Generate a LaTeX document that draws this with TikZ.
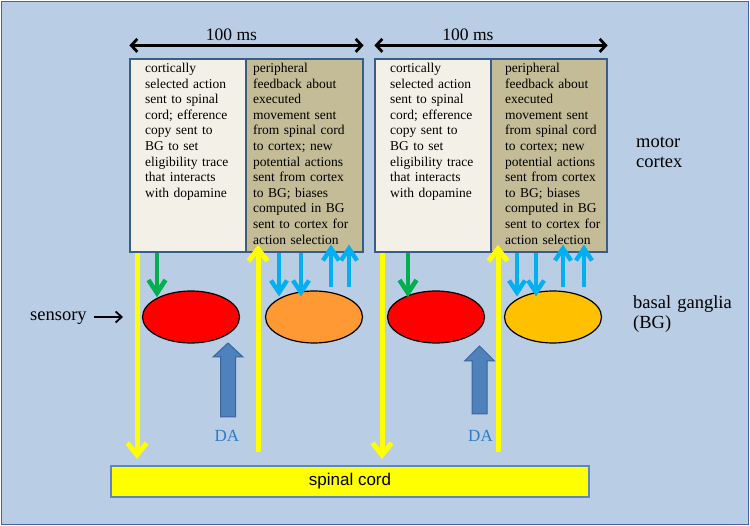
\documentclass[tikz,border=0pt]{standalone}
\usepackage{fontspec}
\setmainfont{Liberation Serif}
\newfontfamily\arialfont{Liberation Sans}
\usetikzlibrary{shapes.geometric,arrows.meta}
\definecolor{slide}{HTML}{B9CDE5}
\definecolor{slideline}{HTML}{41669C}
\definecolor{panelline}{HTML}{385D8A}
\definecolor{selfill}{HTML}{F3F1E7}
\definecolor{fbfill}{HTML}{C4BC96}
\definecolor{bgorange}{HTML}{FF9933}
\definecolor{bggold}{HTML}{FFC000}
\definecolor{ylw}{HTML}{FFFF00}
\definecolor{grn}{HTML}{00B050}
\definecolor{cyn}{HTML}{00B0F0}
\definecolor{dafill}{HTML}{4F81BD}
\definecolor{daline}{HTML}{3A6599}
\definecolor{datext}{HTML}{2B7BC6}
\definecolor{spineline}{HTML}{5B86BE}
\newcommand\selecttext{cortically\\selected action\\sent to spinal\\cord; efference\\copy sent to\\BG to set\\eligibility trace\\that interacts\\with dopamine}
\newcommand\feedbacktext{peripheral\\feedback about\\executed\\movement sent\\from spinal cord\\to cortex; new\\potential actions\\sent from cortex\\to BG; biases\\computed in BG\\sent to cortex for\\action selection}
\newcommand\tipdown[4]{\draw[#1] ([shift={(-#3,#4)}]#2) -- (#2) -- ([shift={(#3,#4)}]#2);}
\newcommand\tipup[4]{\draw[#1] ([shift={(-#3,-#4)}]#2) -- (#2) -- ([shift={(#3,-#4)}]#2);}

\begin{document}
\begin{tikzpicture}[x=1pt,y=-1pt,
  panel/.style={draw=panelline, line width=1.2pt, inner sep=0pt, minimum height=193pt},
  boxtext/.style={anchor=base west, inner sep=0pt, text width=110pt, align=left,
    font=\fontsize{13.5}{15.6}\selectfont},
  label/.style={anchor=base west, inner sep=0pt, text width=110pt, align=left,
    font=\fontsize{18.5}{19.5}\selectfont},
  spanlabel/.style={anchor=base, inner sep=0pt, font=\fontsize{17.5}{20}\selectfont},
  dalabel/.style={anchor=base, inner sep=0pt, text=datext, font=\fontsize{17}{20}\selectfont},
  bgnode/.style={ellipse, draw=black, line width=1.2pt, minimum width=97pt, minimum height=52pt, inner sep=0pt},
  span/.style={line width=2.8pt, {Straight Barb[length=6pt,width=13pt,line width=2.8pt]}-{Straight Barb[length=6pt,width=13pt,line width=2.8pt]}},
  yline/.style={draw=ylw, line width=5pt, line join=miter},
  gline/.style={draw=grn, line width=4.6pt, line join=miter},
  cline/.style={draw=cyn, line width=4.4pt, line join=miter},
  blockarrow/.style={fill=dafill, draw=daline, line width=1pt}]
  \useasboundingbox (0,0) rectangle (750,526);
  \draw[fill=slide, draw=slideline, line width=1.5pt] (1.5,1.5) rectangle (748.5,524.5);

  \node[panel, fill=selfill, minimum width=116pt] (sel1) at (188,155.5) {};
  \node[panel, fill=fbfill, minimum width=117pt] (fb1) at (304.5,155.5) {};
  \node[panel, fill=selfill, minimum width=116pt] (sel2) at (433,155.5) {};
  \node[panel, fill=fbfill, minimum width=116pt] (fb2) at (549,155.5) {};
  \node[boxtext] (sel1txt) at (145,72.5) {\selecttext};
  \node[boxtext] (fb1txt) at (253,72.5) {\feedbacktext};
  \node[boxtext] (sel2txt) at (390,72.5) {\selecttext};
  \node[boxtext] (fb2txt) at (505,72.5) {\feedbacktext};

  \draw[span] ([yshift=13pt]sel1.north west) -- ([yshift=13pt]fb1.north east);
  \draw[span] ([yshift=13pt]sel2.north west) -- ([yshift=13pt]fb2.north east);
  \node[spanlabel] (span1) at (231.5,41) {100 ms};
  \node[spanlabel] (span2) at (468,41) {100 ms};

  \node[label] (motor) at (636,148) {motor\\cortex};
  \node[label] (ganglia) at (633,309) {basal ganglia\\(BG)};
  \node[label, text width=60pt] (sensory) at (30,321) {sensory};
  \coordinate (sensin) at (123,317);
  \draw[line width=1.8pt, -{Straight Barb[length=6pt,width=11pt,line width=1.8pt]}] (sensory.east |- sensin) ++(4pt,0) -- (sensin);

  \node[bgnode, fill=red] (bgA1) at (191,317) {};
  \node[bgnode, fill=bgorange] (bgB1) at (314,317) {};
  \node[bgnode, fill=red] (bgA2) at (436,317) {};
  \node[bgnode, fill=bggold] (bgB2) at (553,317) {};

  \node[draw=spineline, fill=ylw, line width=1.5pt, minimum width=478pt, minimum height=31pt,
    inner sep=0pt, font=\arialfont\fontsize{17}{20}\selectfont] (spine) at (350,481.5) {spinal cord};

  \coordinate (yd1) at (137,455);
  \coordinate (yu1) at (258,249);
  \coordinate (yd2) at (382,455);
  \coordinate (yu2) at (498,249);
  \draw[yline] (sel1.south -| yd1) -- (yd1);
  \draw[yline, shorten <=13pt] (spine.north -| yu1) -- (yu1);
  \draw[yline] (sel2.south -| yd2) -- (yd2);
  \draw[yline, shorten <=13pt] (spine.north -| yu2) -- (yu2);
  \tipdown{yline}{yd1}{9.5pt}{12pt}
  \tipup{yline}{yu1}{9.5pt}{12pt}
  \tipdown{yline}{yd2}{9.5pt}{12pt}
  \tipup{yline}{yu2}{9.5pt}{12pt}

  \coordinate (gd1) at (157,293);
  \coordinate (gd2) at (408,293);
  \draw[gline] (sel1.south -| gd1) -- (gd1);
  \draw[gline] (sel2.south -| gd2) -- (gd2);
  \tipdown{gline}{gd1}{8.5pt}{13pt}
  \tipdown{gline}{gd2}{8.5pt}{13pt}

  \coordinate (cd1) at (279,292.5);
  \coordinate (cd2) at (301,292.5);
  \coordinate (cu1) at (331,248.5);
  \coordinate (cu2) at (349,248.5);
  \coordinate (cd3) at (517,292.5);
  \coordinate (cd4) at (536,292.5);
  \coordinate (cu3) at (563,248.5);
  \coordinate (cu4) at (584,248.5);
  \draw[cline] (fb1.south -| cd1) -- (cd1);
  \draw[cline] (fb1.south -| cd2) -- (cd2);
  \draw[cline, shorten <=3pt] (bgB1.north -| cu1) -- (cu1);
  \draw[cline, shorten <=3pt] (bgB1.north -| cu2) -- (cu2);
  \draw[cline] (fb2.south -| cd3) -- (cd3);
  \draw[cline] (fb2.south -| cd4) -- (cd4);
  \draw[cline, shorten <=3pt] (bgB2.north -| cu3) -- (cu3);
  \draw[cline, shorten <=3pt] (bgB2.north -| cu4) -- (cu4);
  \tipdown{cline}{cd1}{8pt}{12pt}
  \tipdown{cline}{cd2}{8pt}{12pt}
  \tipup{cline}{cu1}{8pt}{12pt}
  \tipup{cline}{cu2}{8pt}{12pt}
  \tipdown{cline}{cd3}{8pt}{12pt}
  \tipdown{cline}{cd4}{8pt}{12pt}
  \tipup{cline}{cu3}{8pt}{12pt}
  \tipup{cline}{cu4}{8pt}{12pt}

  \draw[blockarrow] (220.5,417) -- (220.5,357) -- (213,357) -- (228,343) -- (243,357) -- (235.5,357) -- (235.5,417) -- cycle;
  \draw[blockarrow] (472,414) -- (472,361) -- (464.5,361) -- (479.5,346) -- (494.5,361) -- (487,361) -- (487,414) -- cycle;
  \node[dalabel] (da1) at (227,442) {DA};
  \node[dalabel] (da2) at (480.5,442) {DA};
\end{tikzpicture}
\end{document}
